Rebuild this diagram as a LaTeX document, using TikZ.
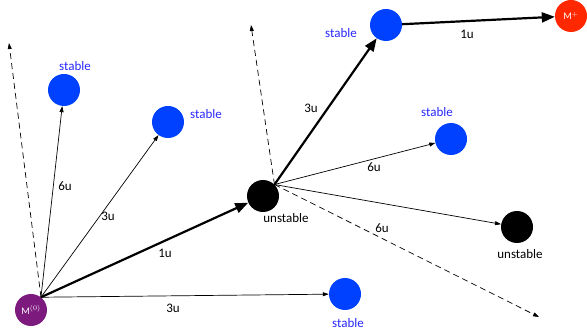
\documentclass[tikz,border=0pt]{standalone}
\usepackage{fontspec}
\setmainfont{Carlito}
\usetikzlibrary{arrows.meta}
\definecolor{stableblue}{RGB}{0,64,255}
\definecolor{stabletext}{RGB}{40,40,255}
\definecolor{parentpurple}{RGB}{125,26,125}
\definecolor{finalred}{RGB}{255,40,0}
\begin{document}
\begin{tikzpicture}[x=1pt,y=-1pt,
  ion/.style = {circle, minimum size=32pt, inner sep=0pt, text=white, font=\fontsize{10}{11}\selectfont},
  lbl/.style = {font=\fontsize{13}{15}\selectfont, inner sep=0pt},
  loss/.style = {-{Triangle[length=6pt,width=4pt]}, line width=0.7pt},
  mainloss/.style = {-{Triangle[length=13pt,width=10pt]}, line width=2.2pt},
  ghost/.style = {dash pattern=on 6pt off 4pt, -{Triangle[length=6pt,width=4pt]}, line width=0.7pt}]
\useasboundingbox (0,0) rectangle (587,331);
\node[ion, fill = parentpurple] (m0) at (31,310) {M$^{(0)}$};
\node[ion, fill = stableblue] (s1) at (64,90) {};
\node[ion, fill = stableblue] (s2) at (168,122) {};
\node[ion, fill = black] (u1) at (263,196) {};
\node[ion, fill = stableblue] (s3) at (345,294) {};
\node[ion, fill = stableblue] (s4) at (386,25) {};
\node[ion, fill = stableblue] (s5) at (451,139) {};
\node[ion, fill = black] (u2) at (517,227) {};
\node[ion, fill = finalred] (mf) at (571,16) {M$^{+}$};
\coordinate (g1) at (9,43);
\coordinate (g2) at (251,25);
\coordinate (g3) at (539,317);
\node[lbl, text = stabletext] (ls1) at (75,66) {stable};
\node[lbl, text = stabletext] (ls2) at (206,114) {stable};
\node[lbl] (lu1) at (286,218) {unstable};
\node[lbl, text = stabletext] (ls3) at (348,323) {stable};
\node[lbl, text = stabletext] (ls4) at (341,33) {stable};
\node[lbl, text = stabletext] (ls5) at (437,112) {stable};
\node[lbl] (lu2) at (520,254) {unstable};
\node[lbl] (d1) at (65,186) {6u};
\node[lbl] (d2) at (108,216) {3u};
\node[lbl] (d3) at (165,253) {1u};
\node[lbl] (d4) at (173,308) {3u};
\node[lbl] (d5) at (311,108) {3u};
\node[lbl] (d6) at (374,167) {6u};
\node[lbl] (d7) at (382,228) {6u};
\node[lbl] (d8) at (467,34) {1u};
\draw[ghost] (m0.52) -- (g1);
\draw[loss] (m0.52) -- (s1);
\draw[loss] (m0.52) -- (s2);
\draw[mainloss] (m0.52) -- (u1);
\draw[loss] (m0.52) -- (s3);
\draw[ghost] (u1.45) -- (g2);
\draw[mainloss] (u1.45) -- (s4);
\draw[loss] (u1.45) -- (s5);
\draw[loss] (u1.45) -- (u2);
\draw[ghost] (u1.45) -- (g3);
\draw[mainloss] (s4) -- (mf);
\end{tikzpicture}
\end{document}
